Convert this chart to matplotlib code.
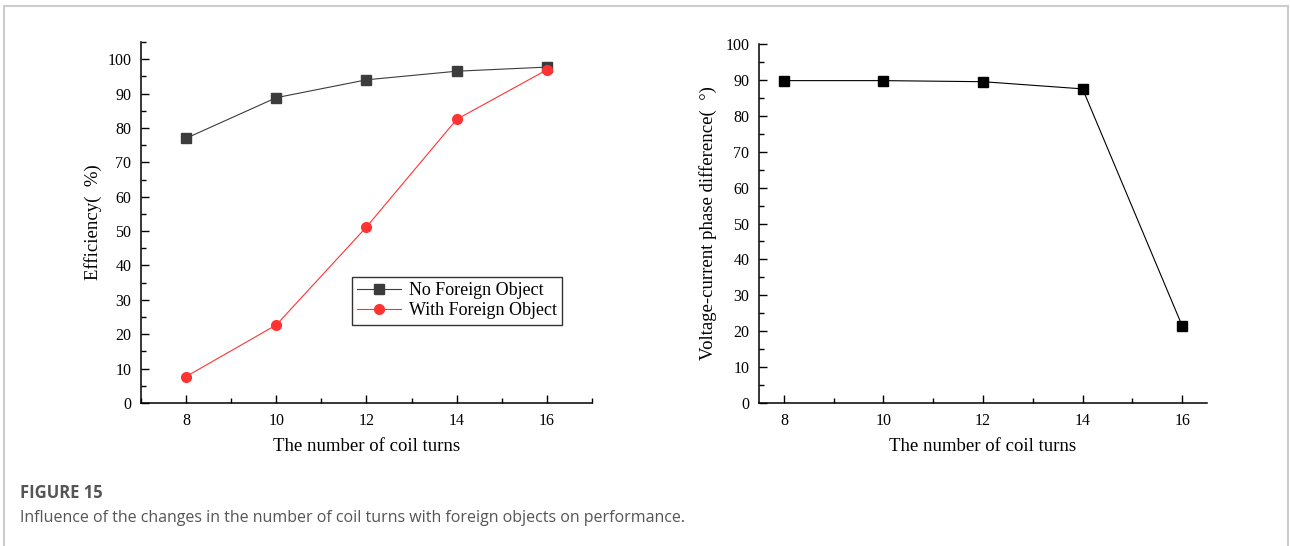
import matplotlib
matplotlib.use("Agg")
import matplotlib.pyplot as plt
from matplotlib.patches import Rectangle
from matplotlib.ticker import MultipleLocator

turns = [8, 10, 12, 14, 16]
eff_no_object = [77.0, 88.8, 94.0, 96.5, 97.7]
eff_with_object = [7.7, 22.7, 51.2, 82.5, 96.9]
phase_diff = [89.8, 89.8, 89.5, 87.5, 21.5]

plt.rcParams["font.family"] = ["Liberation Serif", "DejaVu Sans"]


def style_axes(ax):
    for side in ("top", "right"):
        ax.spines[side].set_visible(False)
    for side in ("left", "bottom"):
        ax.spines[side].set_linewidth(1.1)
    ax.xaxis.set_major_locator(MultipleLocator(2))
    ax.xaxis.set_minor_locator(MultipleLocator(1))
    ax.yaxis.set_major_locator(MultipleLocator(10))
    ax.yaxis.set_minor_locator(MultipleLocator(5))
    ax.tick_params(which="both", direction="in", width=1.0, labelsize=11.5,
                   top=False, right=False)
    ax.tick_params(which="major", length=6, pad=7)
    ax.tick_params(which="minor", length=3.5)
    ax.set_xlabel("The number of coil turns", fontsize=13.5, labelpad=7)


fig = plt.figure(figsize=(12.9, 5.46), dpi=100)

# left: efficiency
ax1 = fig.add_axes([0.1093, 0.2619, 0.3496, 0.6612])
ax1.plot(turns, eff_no_object, color="#3c3c3c", lw=0.8, marker="s",
         markersize=6.5, label="No Foreign Object")
ax1.plot(turns, eff_with_object, color="#ff3333", lw=0.8, marker="o",
         markersize=7, label="With Foreign Object")
ax1.set_xlim(7, 17)
ax1.set_ylim(0, 105)
style_axes(ax1)
ax1.set_ylabel("Efficiency(  %)", fontsize=13.5, labelpad=4)
leg = ax1.legend(loc="upper left", bbox_to_anchor=(0.468, 0.349),
                 fontsize=13, frameon=True, fancybox=False,
                 borderaxespad=0, handlelength=2.4, handletextpad=0.45,
                 borderpad=0.3, labelspacing=0.15)
leg.get_frame().set_edgecolor("black")
leg.get_frame().set_linewidth(1.0)

# right: phase difference
ax2 = fig.add_axes([0.5884, 0.2619, 0.3473, 0.6575])
ax2.plot(turns, phase_diff, color="black", lw=0.8, marker="s",
         markersize=6.5)
ax2.set_xlim(7.5, 16.5)
ax2.set_ylim(0, 100)
style_axes(ax2)
ax2.set_ylabel("Voltage-current phase difference(  °)", fontsize=13.5,
               labelpad=6)

# caption and page frame
fig.patches.append(Rectangle((4 / 1290, -0.05), 1284 / 1290, 1.05 - 6 / 546,
                             transform=fig.transFigure, fill=False,
                             edgecolor="#cccccc", lw=1.5))
fig.text(20 / 1290, 1 - 493 / 546, "FIGURE 15", fontsize=12,
         fontweight="bold", color="#555555", family="Open Sans", va="center")
fig.text(20 / 1290, 1 - 518 / 546,
         "Influence of the changes in the number of coil turns with foreign "
         "objects on performance.", fontsize=11.5, color="#555555",
         family="Open Sans", va="center")

fig.savefig("out.png", dpi=100)
